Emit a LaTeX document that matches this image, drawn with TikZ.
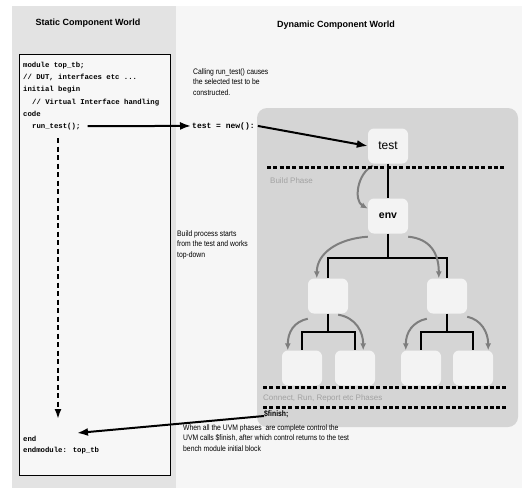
\documentclass[tikz,border=0pt]{standalone}
\usepackage{fontspec}
\setmainfont{Liberation Sans}
\newfontfamily\narrowsans[FakeStretch=0.85]{Liberation Sans}
\newfontfamily\codefont{Liberation Mono}
\usetikzlibrary{arrows.meta,calc}
\definecolor{leftgray}{HTML}{E3E3E3}
\definecolor{rightgray}{HTML}{F6F6F6}
\definecolor{dynbox}{HTML}{D5D5D5}
\definecolor{nodefill}{HTML}{F3F3F3}
\definecolor{arrgray}{HTML}{7E7E7E}
\definecolor{phasegray}{HTML}{A2A2A2}
\tikzset{
  title/.style={font=\bfseries\fontsize{9}{11}\selectfont, anchor=center},
  codeline/.style={font=\codefont\bfseries\fontsize{7.3}{9}\selectfont, anchor=base west, inner sep=0pt},
  caption/.style={font=\narrowsans\fontsize{8}{10.5}\selectfont, align=left, anchor=north west, inner sep=0pt},
  phase/.style={font=\fontsize{8}{9}\selectfont, text=phasegray, anchor=west, inner sep=0pt},
  compbox/.style={fill=nodefill, rounded corners=6pt, minimum width=40pt, minimum height=35pt, inner sep=0pt},
  bigarrow/.style={line width=2pt, -{Latex[length=11pt,width=8pt]}},
  treeline/.style={line width=2pt},
  grayarrow/.style={draw=arrgray, line width=2pt, -{Latex[length=7pt,width=6pt]}},
  phaseline/.style={line width=3pt, dash pattern=on 4pt off 2.3pt},
  codedash/.style={line width=2pt, dash pattern=on 5pt off 3.5pt, -{Latex[length=10pt,width=7pt]}}
}
\begin{document}
\begin{tikzpicture}[x=1pt,y=-1pt]
\useasboundingbox (0,0) rectangle (522,488);
\fill[white] (0,0) rectangle (522,488);
\fill[leftgray] (12,6) rectangle (176,488);
\fill[rightgray] (176,6) rectangle (522,488);
\node[title] (stitle) at (88,23) {Static Component World};
\node[title] (dtitle) at (336,25) {Dynamic Component World};
% code box
\draw[line width=0.7pt, fill=white!97!black] (19,54) rectangle (170,475);
\node[codeline] (c1) at (23,67) {module top\_tb;};
\node[codeline] (c2) at (23,79) {// DUT, interfaces etc ...};
\node[codeline] (c3) at (23,91) {initial begin};
\node[codeline] (c4) at (32,104) {// Virtual Interface handling};
\node[codeline] (c5) at (23,116) {code};
\node[codeline] (runtest) at (32,128) {run\_test();};
\node[codeline] (cend) at (23,441) {end};
\node[codeline] (cendm) at (23,452) {endmodule: top\_tb};
\coordinate (dtop) at (58,138);
\coordinate (dbot) at (58,419);
\draw[codedash] (dtop) -- (dbot);
% dynamic region
\node[caption] (cap1) at (193,68) {Calling run\_test() causes\\the selected test to be\\constructed.};
\node[font=\codefont\bfseries\fontsize{8}{9}\selectfont, anchor=base west, inner sep=0pt] (testnew) at (192,128) {test = new():};
\draw[bigarrow] ([xshift=7pt]runtest.east) -- ([xshift=-1pt]testnew.west);
\fill[dynbox, rounded corners=10pt] (257,108) rectangle (518,427);
\node[compbox, font=\fontsize{12}{14}\selectfont] (test) at (388,146) {test};
\node[compbox, font=\bfseries\fontsize{10.5}{12}\selectfont] (env) at (388,216) {env};
\node[compbox] (ch1) at (328,296) {};
\node[compbox] (ch2) at (447,296) {};
\node[compbox] (g1) at (302,368) {};
\node[compbox] (g2) at (355,368) {};
\node[compbox] (g3) at (421,368) {};
\node[compbox] (g4) at (473,368) {};
\draw[bigarrow] ([xshift=3pt]testnew.east) -- (test.west);
\draw[treeline] (test.south) -- (env.north);
\draw[treeline] (env.south) -- (env.south |- 0,258) -| (ch1.north);
\draw[treeline] (env.south |- 0,258) -| (ch2.north);
\draw[treeline] (ch1.south) -- (ch1.south |- 0,332) -| (g1.north);
\draw[treeline] (ch1.south |- 0,332) -| (g2.north);
\draw[treeline] (ch2.south) -- (ch2.south |- 0,332) -| (g3.north);
\draw[treeline] (ch2.south |- 0,332) -| (g4.north);
% gray build arrows
\draw[grayarrow] ([xshift=5pt,yshift=-2pt]test.south west) .. controls +(-16,8) and +(-14,-8) .. (env.160);
\draw[grayarrow] ([yshift=-3pt]env.south west) .. controls +(-30,2) and +(0,-25) .. ([xshift=9pt]ch1.north west);
\draw[grayarrow] ([yshift=-3pt]env.south east) .. controls +(22,2) and +(0,-25) .. ([xshift=12pt]ch2.north west);
\draw[grayarrow] ([yshift=-5pt]ch1.south west) .. controls +(-14,3) and +(0,-18) .. ([xshift=6pt]g1.north west);
\draw[grayarrow] ([xshift=-10pt,yshift=-1pt]ch1.south east) .. controls +(18,3) and +(0,-18) .. ([xshift=-12pt]g2.north east);
\draw[grayarrow] ([yshift=-5pt]ch2.south west) .. controls +(-14,3) and +(0,-18) .. ([xshift=5pt]g3.north west);
\draw[grayarrow] ([xshift=0pt,yshift=-3pt]ch2.south east) .. controls +(14,3) and +(0,-18) .. ([xshift=-5pt]g4.north east);
% phase lines
\coordinate (pl1a) at (267,167); \coordinate (pl1b) at (506,167);
\coordinate (pl2a) at (263,387); \coordinate (pl2b) at (506,387);
\coordinate (pl3a) at (263,407); \coordinate (pl3b) at (506,407);
\draw[phaseline] (pl1a) -- (pl1b);
\draw[phaseline] (pl2a) -- (pl2b);
\draw[phaseline] (pl3a) -- (pl3b);
\node[phase] (bphase) at (270,181) {Build Phase};
\node[phase] (cphase) at (263,398) {Connect, Run, Report etc Phases};
\node[font=\narrowsans\bfseries\fontsize{8}{9}\selectfont, anchor=west, inner sep=0pt] (finish) at (264,414) {\$finish;};
\coordinate (retpt) at (77,433);
\draw[bigarrow] ([yshift=-2pt]finish.west) -- (retpt);
\node[caption] (cap2) at (177,230) {Build process starts\\from the test and works\\top-down};
\node[caption] (cap3) at (183,424) {When all the UVM phases\ \ are complete control the\\UVM calls \$finish, after which control returns to the test\\bench module initial block};
\end{tikzpicture}
\end{document}
